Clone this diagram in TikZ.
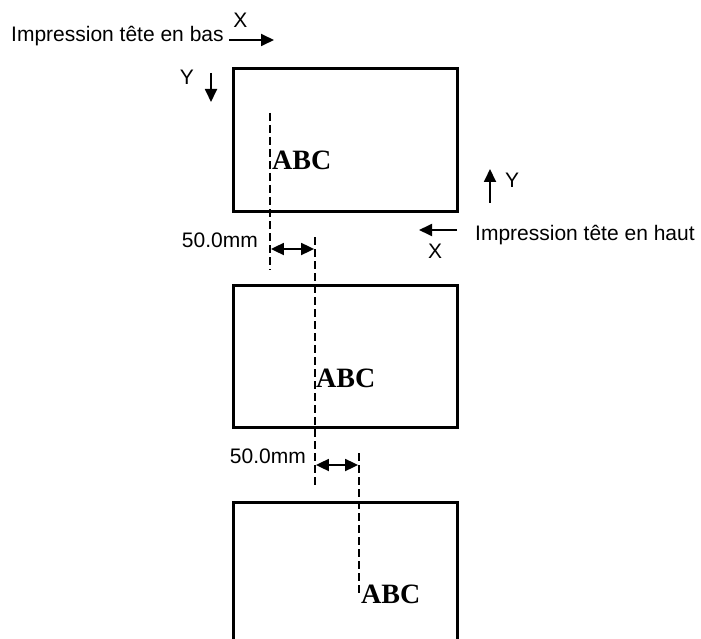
\documentclass[tikz,border=0pt]{standalone}
\usepackage{fontspec}
\setmainfont{Liberation Sans}
\newfontfamily\serifbold{Liberation Serif}
\usetikzlibrary{arrows.meta}
\begin{document}
\begin{tikzpicture}[x=1pt,y=-1pt,
  lbl/.style={inner sep=0pt,font=\fontsize{21}{24}\selectfont},
  abc/.style={inner sep=0pt,anchor=base west,font=\fontsize{28}{30}\serifbold\bfseries},
  sheet/.style={draw,line width=3pt,fill=none},
  guide/.style={line width=1.8pt,dash pattern=on 8pt off 4pt},
  dimarrow/.style={line width=1.8pt,{Triangle[length=13pt,width=12pt]}-{Triangle[length=13pt,width=12pt]}},
  axisarrow/.style={line width=1.8pt,-{Triangle[length=13pt,width=12pt]}}]
\useasboundingbox (0,0) rectangle (701,639);
\clip (0,0) rectangle (701,639);
\fill[white] (0,0) rectangle (701,639);
% sheets
\draw[sheet] (233,69) rectangle (457,211);
\draw[sheet] (233,285) rectangle (457,427);
\draw[sheet] (233,502) rectangle (457,660);
% guide coordinates
\coordinate (g1a) at (270,113);
\coordinate (g1b) at (270,270);
\coordinate (g2a) at (315,237);
\coordinate (g2b) at (315,485);
\coordinate (g3a) at (359,453);
\coordinate (g3b) at (359,594);
\draw[guide] (g1a) -- (g1b);
\draw[guide] (g2a) -- (g2b);
\draw[guide] (g3a) -- (g3b);
% dimension arrows
\coordinate (d1a) at (270.9,249);
\coordinate (d1b) at (314.1,249);
\coordinate (d2a) at (315.9,465);
\coordinate (d2b) at (358.1,465);
\draw[dimarrow] (d1a) -- (d1b);
\draw[dimarrow] (d2a) -- (d2b);
\node[lbl,anchor=base east] (m1) at (258,247) {50.0mm};
\node[lbl,anchor=base east] (m2) at (306,463) {50.0mm};
% ABC texts
\node[abc] (t1) at (272,170) {ABC};
\node[abc] (t2) at (316,387) {ABC};
\node[abc] (t3) at (361,603) {ABC};
% top-left legend
\node[lbl,anchor=base west] (bas) at (11,42) {Impression tête en bas};
\node[lbl,anchor=base] (xb) at (240.5,28) {X};
\coordinate (xa1) at (229,40);
\coordinate (xa2) at (274,40);
\draw[axisarrow] (xa1) -- (xa2);
\node[lbl,anchor=base] (yb) at (187,85) {Y};
\coordinate (ya1) at (211,73);
\coordinate (ya2) at (211,102);
\draw[axisarrow] (ya1) -- (ya2);
% right legend
\coordinate (yh1) at (490,203);
\coordinate (yh2) at (490,169);
\draw[axisarrow] (yh1) -- (yh2);
\node[lbl,anchor=base] (yh) at (512,188) {Y};
\coordinate (xh1) at (457,230);
\coordinate (xh2) at (419,230);
\draw[axisarrow] (xh1) -- (xh2);
\node[lbl,anchor=base] (xh) at (435,258) {X};
\node[lbl,anchor=base west] (haut) at (475,240) {Impression tête en haut};
\end{tikzpicture}
\end{document}
